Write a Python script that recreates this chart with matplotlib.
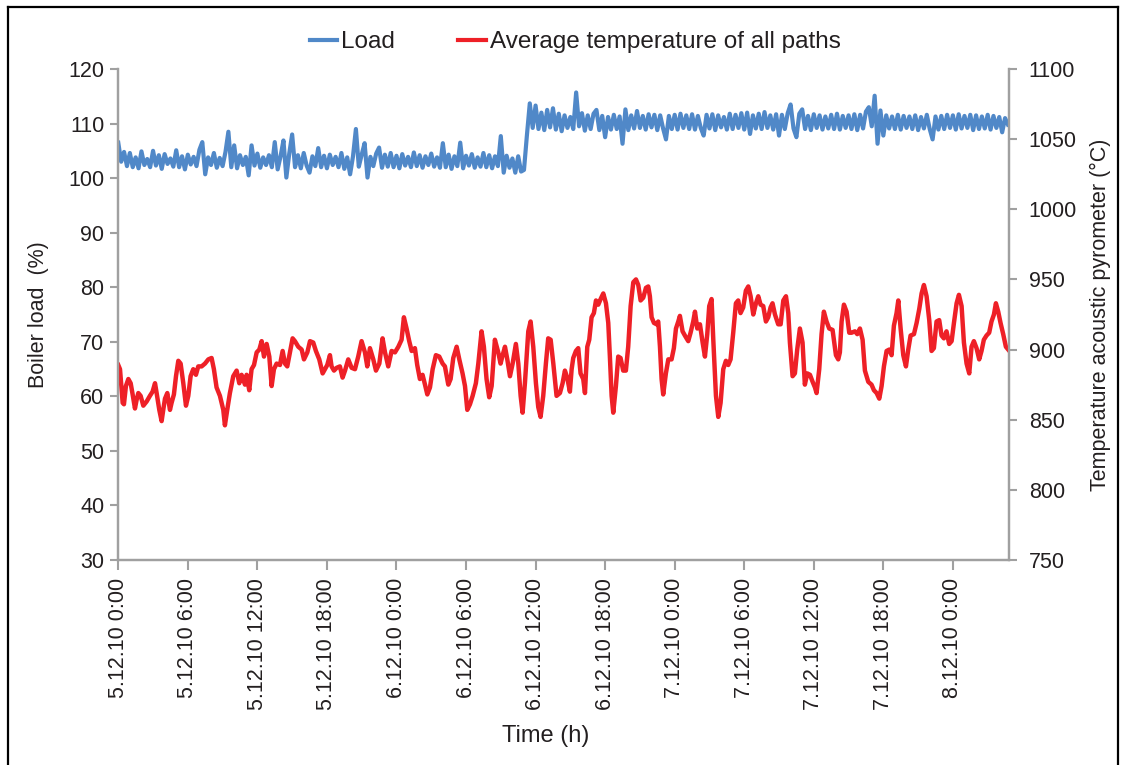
import numpy as np
import matplotlib
matplotlib.use("Agg")
import matplotlib.pyplot as plt
from matplotlib.lines import Line2D

plt.rcParams['font.family'] = ['Liberation Sans', 'DejaVu Sans']

# ---------------- data ----------------
tick_hours = [0, 6, 12, 18, 24, 30, 36, 42, 48, 54, 60, 66, 72]
tick_labels = ["5.12.10 0:00", "5.12.10 6:00", "5.12.10 12:00", "5.12.10 18:00",
               "6.12.10 0:00", "6.12.10 6:00", "6.12.10 12:00", "6.12.10 18:00",
               "7.12.10 0:00", "7.12.10 6:00", "7.12.10 12:00", "7.12.10 18:00",
               "8.12.10 0:00"]

# Boiler load (%) sampled every 15 min (4 values per hour)
load_step_h = 0.25
load = [
    106.5, 103.0, 104.8, 102.2,  104.6, 102.0, 103.8, 101.8,  104.9, 102.4, 103.5, 102.0,
    105.0, 102.3, 104.2, 101.7,  104.4, 102.6, 103.6, 102.1,  105.1, 102.0, 104.0, 101.6,
    104.3, 102.5, 103.9, 102.2,  105.2, 106.6, 100.7, 103.8,  102.4, 104.6, 101.9, 103.7,
    102.2, 104.8, 108.5, 102.0,  106.0, 101.8, 104.2, 102.4,  103.9, 100.5, 106.0, 102.3,
    104.5, 101.9, 103.8, 102.4,  104.2, 102.0, 106.6, 101.6,  104.0, 106.9, 100.1, 104.5,
    108.0, 102.0, 104.2, 101.8,  104.6, 102.3, 101.0, 104.0,  102.2, 105.5, 102.0, 104.1,
    101.8, 104.3, 102.4, 103.9,  102.0, 104.6, 101.7, 103.8,  100.7, 104.0, 109.0, 102.1,
    104.3, 106.4, 100.1, 103.9,  102.2, 104.5, 105.6, 101.9,  104.3, 102.1, 104.6, 102.0,
    104.1, 101.8, 104.4, 102.3,  103.9, 102.0, 104.7, 102.2,  104.2, 101.9, 104.0, 102.4,
    104.5, 102.1, 103.8, 101.9,  106.4, 102.0, 104.3, 101.7,  104.0, 102.2, 106.5, 101.8,
    104.1, 102.3, 104.4, 101.9,  103.8, 102.1, 104.6, 102.0,  104.2, 101.8, 104.0, 102.2,
    107.7, 101.0, 104.1, 101.9,  103.6, 101.0, 104.0, 101.2,  101.5, 107.8, 113.7, 109.2,
    113.3, 109.0, 112.0, 108.8,  112.5, 109.3, 112.8, 108.9,  111.8, 108.6, 111.5, 109.2,
    111.2, 109.0, 115.7, 109.5,  111.9, 108.7, 111.5, 109.0,  111.8, 112.5, 108.8, 111.4,
    107.5, 111.2, 108.9, 111.6,  109.0, 111.3, 106.3, 112.6,  108.8, 111.5, 109.1, 112.3,
    109.2, 111.4, 108.9, 111.7,  109.3, 111.6, 108.8, 111.5,  109.1, 107.1, 111.4, 109.0,
    111.6, 108.9, 111.8, 109.2,  111.5, 109.0, 111.7, 108.9,  111.4, 109.2, 107.8, 111.6,
    109.1, 111.7, 108.8, 111.5,  109.3, 111.2, 108.9, 111.8,  109.0, 111.6, 109.2, 111.9,
    108.9, 112.0, 108.1, 111.5,  109.1, 111.8, 109.0, 112.1,  109.2, 111.5, 108.9, 111.7,
    107.8, 111.6, 109.0, 111.9,  113.5, 109.1, 107.5, 111.8,  112.6, 109.0, 111.4, 108.8,
    111.7, 109.2, 111.5, 108.9,  111.3, 109.1, 111.6, 109.0,  111.8, 108.9, 111.4, 109.2,
    111.5, 109.0, 111.7, 108.8,  111.6, 109.1, 112.2, 113.0,  109.5, 115.1, 106.3, 112.4,
    107.8, 111.5, 109.1, 111.3,  109.0, 111.6, 108.9, 111.4,  109.2, 111.3, 109.0, 111.5,
    108.8, 111.2, 109.1, 111.6,  109.0, 107.1, 111.3, 108.9,  111.4, 109.0, 111.6, 109.2,
    111.5, 108.9, 111.7, 109.1,  111.4, 109.2, 111.6, 108.8,  111.5, 109.0, 111.3, 109.1,
    111.6, 108.9, 111.4, 109.2,  111.2, 108.4, 111.0, 109.8,
]

# Average temperature of all paths (deg C) at the given hours
temp_hours = [
    0.00, 0.15, 0.38, 0.49, 0.66, 0.87, 1.07, 1.24, 1.44, 1.58, 1.73, 1.93, 2.16, 2.45, 2.73,
    2.96, 3.17, 3.31, 3.54, 3.74, 3.88, 4.03, 4.23, 4.46, 4.60, 4.80, 4.98, 5.18, 5.38, 5.61,
    5.84, 6.04, 6.24, 6.47, 6.70, 6.90, 7.19, 7.48, 7.77, 8.05, 8.25, 8.48, 8.77, 9.06, 9.20,
    9.40, 9.63, 9.92, 10.21, 10.44, 10.64, 10.93, 11.07, 11.30, 11.50, 11.71, 11.94, 12.17, 12.37, 12.57,
    12.80, 13.03, 13.23, 13.43, 13.66, 13.95, 14.18, 14.38, 14.58, 14.81, 15.04, 15.24, 15.53, 15.82, 16.02,
    16.31, 16.54, 16.82, 17.05, 17.34, 17.63, 17.83, 18.03, 18.26, 18.40, 18.61, 18.84,
    19.12, 19.35, 19.56, 19.84, 20.13, 20.42, 20.70, 20.99, 21.28, 21.48, 21.71, 22.00, 22.23, 22.52, 22.80,
    23.01, 23.29, 23.58, 23.87, 24.16, 24.44, 24.64, 24.87, 25.10, 25.31, 25.59, 25.79, 26.02, 26.25, 26.46,
    26.66, 26.89, 27.12, 27.40, 27.69, 27.98, 28.18, 28.47, 28.67, 28.90, 29.19, 29.42, 29.70, 29.91, 30.11,
    30.34, 30.57, 30.85, 31.06, 31.34, 31.54, 31.77, 32.00, 32.21, 32.49, 32.78, 32.98, 33.16, 33.36, 33.56,
    33.79, 34.02, 34.30, 34.51, 34.71, 34.88, 35.08, 35.37, 35.57, 35.80, 36.03, 36.23, 36.43, 36.66, 36.89,
    37.09, 37.30, 37.53, 37.81,
    38.10, 38.33, 38.53, 38.73, 38.96, 39.11, 39.25, 39.48, 39.68, 39.88, 40.11, 40.26, 40.46, 40.63, 40.83,
    41.03, 41.21, 41.41, 41.61, 41.84, 42.07, 42.27, 42.41, 42.56, 42.70, 42.93, 43.13, 43.33, 43.56, 43.79,
    43.99, 44.20, 44.43, 44.66, 44.86, 45.06, 45.29, 45.52, 45.72, 45.86, 46.01, 46.21, 46.44, 46.58, 46.73,
    46.87, 47.01, 47.24, 47.45, 47.73, 47.93, 48.11, 48.31, 48.45, 48.68, 48.88, 49.17, 49.37, 49.60, 49.75,
    49.95, 50.18, 50.41, 50.61, 50.81, 50.98, 51.18, 51.33, 51.56, 51.76, 51.96, 52.19, 52.42, 52.62, 52.82,
    53.05, 53.28, 53.48, 53.68, 53.91, 54.14, 54.35, 54.55, 54.78, 55.01, 55.21, 55.41, 55.64, 55.87, 56.07,
    56.27, 56.44, 56.65, 56.93,
    57.14, 57.37, 57.60, 57.80, 57.94, 58.17, 58.37, 58.57, 58.80, 59.03, 59.23, 59.44, 59.67, 59.90, 60.10,
    60.24, 60.47, 60.67, 60.87, 61.10, 61.33, 61.62, 61.91, 62.11, 62.25, 62.40, 62.60, 62.83, 63.06, 63.26,
    63.55, 63.75, 63.98, 64.21, 64.41, 64.70, 64.98, 65.19, 65.42, 65.65, 65.85, 66.05, 66.28, 66.51, 66.71,
    66.91, 67.14, 67.29, 67.49, 67.72, 67.95, 68.15, 68.35, 68.64, 68.87, 69.10, 69.30, 69.50, 69.73, 69.96,
    70.16, 70.36, 70.59, 70.82, 71.02, 71.22, 71.45, 71.68, 71.89, 72.09, 72.32, 72.52, 72.75, 72.95, 73.18,
    73.41, 73.61, 73.81, 74.04, 74.27, 74.47, 74.67, 74.90, 75.13, 75.33, 75.54, 75.71, 75.91, 76.11, 76.34,
    76.57, 76.77,
]
temp = [
    889, 886, 862, 861, 874, 879, 876, 868, 858, 864, 869, 867, 860, 863, 867,
    870, 876, 869, 857, 849, 857, 865, 869, 857, 862, 868, 881, 892, 890, 876,
    860, 867, 881, 886, 882, 888, 888, 890, 893, 894, 886, 873, 867, 857, 846,
    857, 869, 881, 885, 876, 882, 875, 882, 871, 886, 889, 898, 900, 906, 895,
    904, 895, 874, 886, 890, 889, 899, 890, 888, 898, 908, 906, 902, 900, 893,
    898, 906, 905, 899, 893, 883, 886, 889, 896, 888, 885, 887,
    888, 880, 885, 893, 887, 886, 895, 906, 898, 888, 901, 893, 885, 890, 908,
    898, 888, 899, 898, 902, 907, 923, 915, 906, 899, 901, 889, 879, 882, 875,
    868, 873, 886, 896, 895, 890, 888, 875, 879, 894, 902, 893, 883, 874, 857,
    861, 867, 876, 890, 913, 902, 879, 866, 874, 907, 898, 890, 896, 902, 893,
    881, 890, 904, 890, 867, 855, 876, 913, 920, 902, 876, 859, 852, 867, 890,
    908, 907, 890, 867,
    869, 876, 885, 880, 870, 886, 894, 899, 901, 883, 879, 869, 902, 907, 923,
    926, 935, 932, 936, 940, 933, 919, 895, 867, 855, 874, 895, 894, 885, 885,
    902, 931, 948, 950, 946, 935, 937, 944, 945, 938, 923, 919, 918, 920, 902,
    879, 868, 883, 893, 893, 901, 915, 920, 924, 913, 910, 906, 912, 920, 927,
    915, 918, 905, 895, 911, 931, 936, 907, 867, 852, 862, 886, 892, 889, 893,
    912, 933, 935, 926, 930, 942, 945, 938, 925, 933, 938, 932, 931, 920, 923,
    930, 933, 925, 918,
    918, 935, 938, 926, 905, 881, 883, 900, 915, 905, 875, 883, 882, 877, 873,
    869, 886, 911, 927, 920, 915, 914, 896, 893, 898, 920, 932, 927, 912, 912,
    913, 911, 915, 907, 885, 877, 875, 871, 869, 865, 874, 888, 899, 900, 896,
    917, 926, 935, 915, 896, 888, 900, 910, 911, 919, 929, 940, 946, 938, 921,
    899, 901, 920, 921, 910, 908, 913, 904, 906, 919, 933, 939, 931, 905, 890,
    883, 902, 906, 901, 893, 899, 907, 910, 912, 920, 925, 933, 927, 919, 911,
    902, 900,
]

load_hours = np.arange(len(load)) * load_step_h
n = min(len(temp_hours), len(temp))

# ---------------- figure ----------------
fig = plt.figure(figsize=(11.21, 7.65), dpi=100)
ax = fig.add_axes([0.1055, 0.268, 0.7949, 0.6418])
ax2 = ax.twinx()

blue = '#5088C8'
red = '#EE2027'
grey = '#A0A0A0'
txt = '#231F20'

l1, = ax.plot(load_hours, load, color=blue, lw=3.0, solid_joinstyle='round')
l2, = ax2.plot(temp_hours[:n], temp[:n], color=red, lw=3.2, solid_joinstyle='round')

ax.set_xlim(0, 76.87)
ax.set_ylim(30, 120)
ax2.set_ylim(750, 1100)
ax.set_yticks(np.arange(30, 121, 10))
ax2.set_yticks(np.arange(750, 1101, 50))
ax.set_xticks(tick_hours)
ax.set_xticklabels(tick_labels, rotation=90, va='top', ha='center')

for a in (ax, ax2):
    a.spines['top'].set_visible(False)
    for s in ('left', 'right', 'bottom'):
        a.spines[s].set_color(grey)
        a.spines[s].set_linewidth(1.6)
    a.patch.set_visible(False)

ax.tick_params(axis='y', direction='out', length=6, width=1.5, color=grey,
               labelsize=15.5, labelcolor=txt, pad=4)
ax.tick_params(axis='x', direction='out', length=7, width=1.5, color=grey,
               labelsize=15.5, labelcolor=txt, pad=6)
ax2.tick_params(axis='y', direction='out', length=6, width=1.5, color=grey,
                labelsize=15.5, labelcolor=txt, pad=8)

ax.set_ylabel('Boiler load  (%)', fontsize=15.5, color=txt, labelpad=14)
ax2.set_ylabel('Temperature acoustic pyrometer (°C)', fontsize=15.5, color=txt, labelpad=9)
fig.text(0.487, 1 - 736 / 765, 'Time (h)', fontsize=17, color=txt, ha='center', va='center')

leg = fig.legend([l1, l2], ['Load', 'Average temperature of all paths'],
                 loc='center', bbox_to_anchor=(0.513, 1 - 42 / 765), ncol=2,
                 frameon=False, fontsize=17.5, handlelength=1.15, handletextpad=0.15,
                 columnspacing=2.6)
for line in leg.get_lines():
    line.set_linewidth(3)
for t in leg.get_texts():
    t.set_color(txt)

# outer frame lines
fr = dict(color='black', lw=1.6, transform=fig.transFigure)
fig.add_artist(Line2D([8.3 / 1121, 8.3 / 1121], [0, 1 - 7 / 765], **fr))
fig.add_artist(Line2D([8.3 / 1121, 1118 / 1121], [1 - 7 / 765, 1 - 7 / 765], **fr))
fig.add_artist(Line2D([1118 / 1121, 1118 / 1121], [0, 1 - 7 / 765], **fr))

fig.savefig('out.png', dpi=100)
